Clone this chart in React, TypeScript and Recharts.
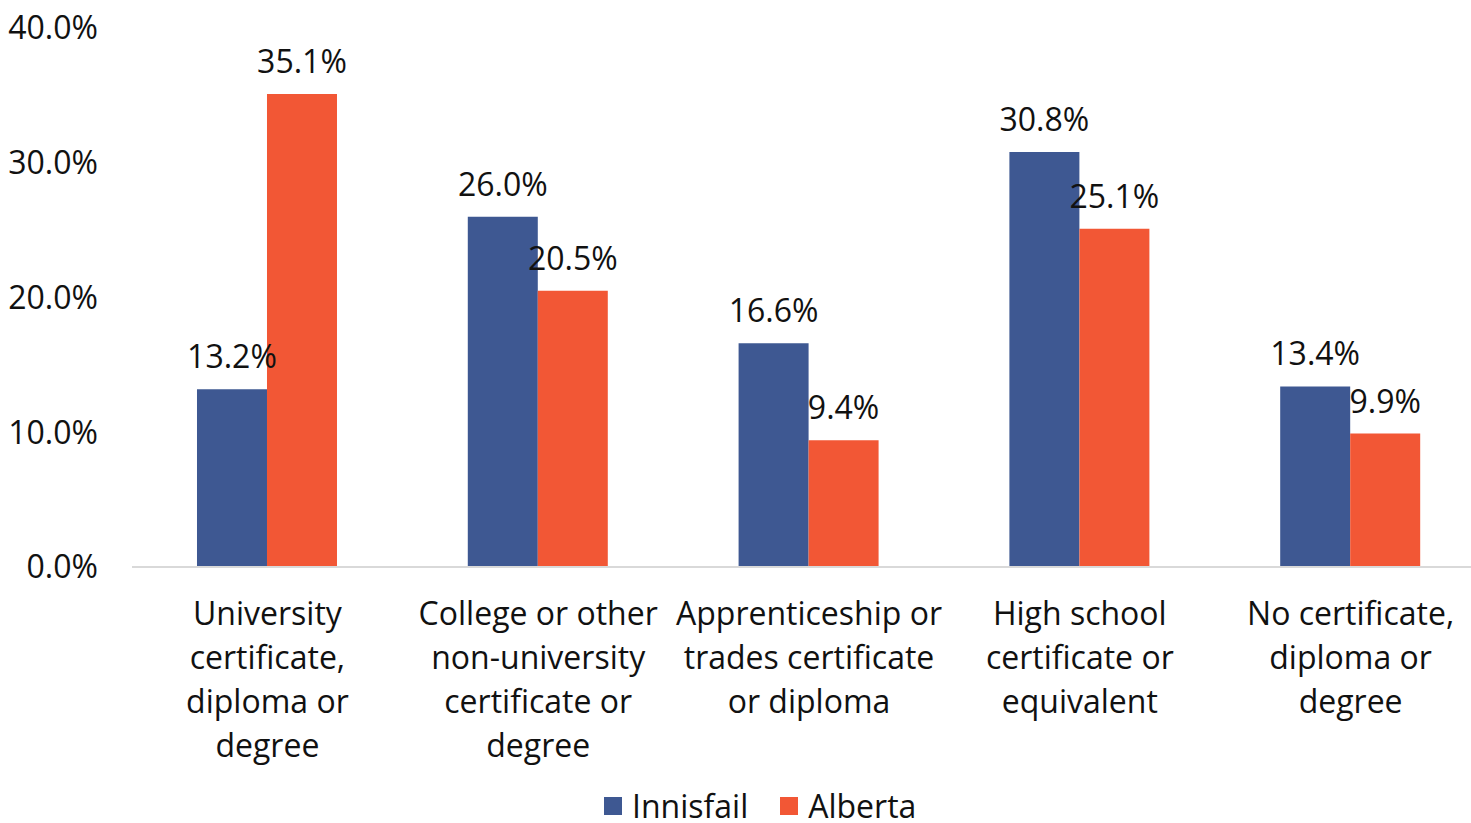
import { BarChart, Bar, XAxis, YAxis, Legend, LabelList } from 'recharts';

const categories = [
  'University certificate, diploma or degree',
  'College or other non-university certificate or degree',
  'Apprenticeship or trades certificate or diploma',
  'High school certificate or equivalent',
  'No certificate, diploma or degree',
];

// how each category label wraps under the axis
const categoryLines = [
  ['University', 'certificate,', 'diploma or', 'degree'],
  ['College or other', 'non-university', 'certificate or', 'degree'],
  ['Apprenticeship or', 'trades certificate', 'or diploma'],
  ['High school', 'certificate or', 'equivalent'],
  ['No certificate,', 'diploma or', 'degree'],
];

const innisfail = [13.2, 26.0, 16.6, 30.8, 13.4];
const alberta = [35.1, 20.5, 9.4, 25.1, 9.9];
const yTicks = [0, 10, 20, 30, 40];

const data = categories.map((name, i) => ({
  name,
  innisfail: innisfail[i],
  alberta: alberta[i],
}));

const FONT = '"Open Sans", sans-serif';
const FS = 32;
const BLUE = '#3e5892';
const ORANGE = '#f25735';
const TEXT = '#111';

const pct = (v: number) => `${v.toFixed(1)}%`;

function CategoryTick({ x, y, index }: any) {
  const lines = categoryLines[index] ?? [];
  return (
    <text x={x} y={y} textAnchor="middle" fontFamily={FONT} fontSize={FS} fill={TEXT}>
      {lines.map((line, i) => (
        <tspan key={i} x={x} y={y + 56 + i * 44}>
          {line}
        </tspan>
      ))}
    </text>
  );
}

function LegendBox() {
  const item = (color: string, label: string, gap: number) => (
    <span style={{ display: 'inline-flex', alignItems: 'center', marginRight: gap }}>
      <span style={{ width: 18, height: 18, background: color, marginRight: 10 }} />
      <span style={{ lineHeight: '32px' }}>{label}</span>
    </span>
  );
  return (
    <div
      style={{
        height: 42,
        paddingLeft: 604,
        display: 'flex',
        alignItems: 'center',
        fontFamily: FONT,
        fontSize: FS,
        lineHeight: '32px',
        color: TEXT,
        boxSizing: 'border-box',
        paddingTop: 8,
      }}
    >
      {item(BLUE, 'Innisfail', 32)}
      {item(ORANGE, 'Alberta', 0)}
    </div>
  );
}

export default function App() {
  return (
    <div
      style={{
        position: 'absolute',
        left: 0,
        top: 0,
        width: 1471,
        height: 823,
        overflow: 'hidden',
        background: '#fff',
      }}
    >
      <BarChart
        width={1500}
        height={823}
        data={data}
        margin={{ top: 28, right: 14, left: 0, bottom: 0 }}
        barCategoryGap="24%"
        barGap={0}
      >
        <XAxis
          dataKey="name"
          height={214}
          interval={0}
          tickLine={false}
          tickSize={0}
          axisLine={{ stroke: '#d9d9d9', strokeWidth: 2 }}
          tick={<CategoryTick />}
        />
        <YAxis
          width={132}
          domain={[0, 40]}
          ticks={yTicks}
          tickFormatter={pct}
          axisLine={false}
          tickLine={false}
          tickSize={0}
          tickMargin={34}
          tick={{ fontFamily: FONT, fontSize: FS, fill: TEXT }}
        />
        <Legend
          verticalAlign="bottom"
          wrapperStyle={{ left: 0, bottom: 0, width: 1500 }}
          content={<LegendBox />}
        />
        <Bar dataKey="innisfail" name="Innisfail" fill={BLUE} isAnimationActive={false}>
          <LabelList
            dataKey="innisfail"
            position="top"
            offset={21}
            formatter={(v: any) => pct(Number(v))}
            style={{ fontFamily: FONT, fontSize: FS, fill: TEXT }}
          />
        </Bar>
        <Bar dataKey="alberta" name="Alberta" fill={ORANGE} isAnimationActive={false}>
          <LabelList
            dataKey="alberta"
            position="top"
            offset={21}
            formatter={(v: any) => pct(Number(v))}
            style={{ fontFamily: FONT, fontSize: FS, fill: TEXT }}
          />
        </Bar>
      </BarChart>
    </div>
  );
}
